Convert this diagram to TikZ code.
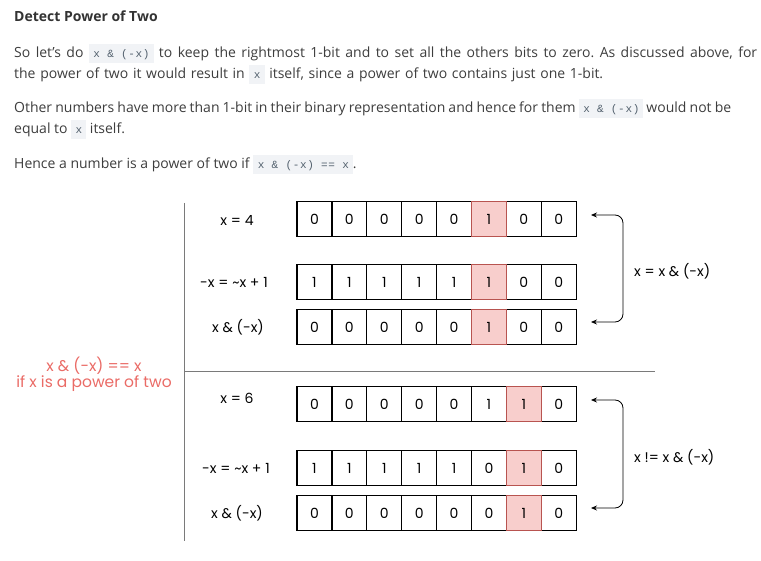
\documentclass[tikz,border=0pt]{standalone}
\usepackage{fontspec}
\setmainfont{Open Sans}
\newfontfamily\codefont[LetterSpace=6]{Liberation Mono}
\newfontfamily\diafont{Poppins}
\usetikzlibrary{arrows.meta}
\definecolor{txt}{HTML}{3D3D3D}
\definecolor{ttl}{HTML}{333333}
\definecolor{codebg}{HTML}{F1F3F6}
\definecolor{codetxt}{HTML}{52606D}
\definecolor{pinkfill}{HTML}{F8CECC}
\definecolor{pinkline}{HTML}{B85450}
\definecolor{redtxt}{HTML}{EA6B66}
\definecolor{axis}{HTML}{7A7A7A}
\frenchspacing
\newcommand\cd[1]{{\setlength\fboxsep{0pt}\colorbox{codebg}{\spaceskip=0pt\relax\hspace{4.5pt}\rule[-5.5pt]{0pt}{19.5pt}\codefont\fontsize{11}{12}\selectfont\color{codetxt}#1\hspace{4pt}}}}
\newcommand\fitline[2]{\hbox to #1{\frenchspacing\spaceskip=0.26em plus 1fil minus 1fil\relax #2}}
\tikzset{
  cell/.style={draw=black, line width=1.2pt, fill=white, minimum width=34.9pt, minimum height=34.6pt, inner sep=0pt, font=\diafont\fontsize{14}{16}\selectfont},
  hot/.style={cell, fill=pinkfill, draw=pinkline},
  lbl/.style={inner sep=0pt, font=\diafont\fontsize{14}{16}\selectfont},
  para/.style={anchor=base west, inner sep=0pt, text=txt, font=\fontsize{14}{18}\selectfont},
  bracket/.style={draw=black, line width=0.8pt, rounded corners=8pt, {Stealth[length=6pt,width=5pt]}-{Stealth[length=6pt,width=5pt]}},
  note/.style={align=center, text=redtxt, inner sep=0pt, font=\diafont\fontsize{15.5}{18}\selectfont},
  axisline/.style={draw=axis, line width=0.9pt}
}
\begin{document}
\begin{tikzpicture}[x=1pt,y=-1pt]
\useasboundingbox (0,0) rectangle (761,561);
% text
\node[para, text=ttl, font=\bfseries\fontsize{14}{17}\selectfont] (title) at (14,22) {Detect Power of Two};
\node[para] (l1) at (14,58) {\fitline{743pt}{So let's do \cd{x \& (-x)} to keep the rightmost 1-bit and to set all the others bits to zero. As discussed above, for}};
\node[para] (l2) at (14,79) {\fitline{589pt}{the power of two it would result in \cd{x} itself, since a power of two contains just one 1-bit.}};
\node[para] (l3) at (14,113) {\fitline{717pt}{Other numbers have more than 1-bit in their binary representation and hence for them \cd{x \& (-x)} would not be}};
\node[para] (l4) at (14,134) {equal to \cd{x} itself.};
\node[para] (l5) at (14,169) {Hence a number is a power of two if \cd{x \& (-x) == x}.};
% axes
\draw[axisline] (184,203) -- (184,541);
\draw[axisline] (184,371) -- (655,371);
% cells
\foreach \r/\y/\bits/\h in {1/219/{0,0,0,0,0,1,0,0}/6, 2/282/{1,1,1,1,1,1,0,0}/6, 3/327/{0,0,0,0,0,1,0,0}/6,
                            4/404/{0,0,0,0,0,1,1,0}/7, 5/468/{1,1,1,1,1,0,1,0}/7, 6/513/{0,0,0,0,0,0,1,0}/7}{
  \foreach \b [count=\i] in \bits {
    \node[cell] (r\r c\i) at ({297+34.9*(\i-0.5)},\y) {\b};
  }
  \foreach \b [count=\i] in \bits {
    \ifnum\i=\h\relax
      \node[hot] (r\r c\i) at ({297+34.9*(\i-0.5)},\y) {\b};
    \fi
  }
}
% row labels
\node[lbl] (lab1) at (237,220) {x = 4};
\node[lbl] (lab2) at (234,282) {-x = \char`~x + 1};
\node[lbl] (lab3) at (238,327) {x \& (-x)};
\node[lbl] (lab4) at (237,398) {x = 6};
\node[lbl] (lab5) at (236,468) {-x = \char`~x + 1};
\node[lbl] (lab6) at (237,513) {x \& (-x)};
% note
\node[note] (note) at (94,374) {x \& (-x) == x\\[-2pt]if x is a power of two};
% brackets
\coordinate (u1) at (591,215);
\coordinate (u2) at (591,322);
\coordinate (d1) at (591,400);
\coordinate (d2) at (591,508);
\draw[bracket] (u1) -- (623,215) -- (623,322) -- (u2);
\draw[bracket] (d1) -- (623,400) -- (623,508) -- (d2);
\node[lbl, anchor=west] (eq1) at (634,271) {x = x \& (-x)};
\node[lbl, anchor=west] (eq2) at (634,457) {x != x \& (-x)};
\end{tikzpicture}
\end{document}
